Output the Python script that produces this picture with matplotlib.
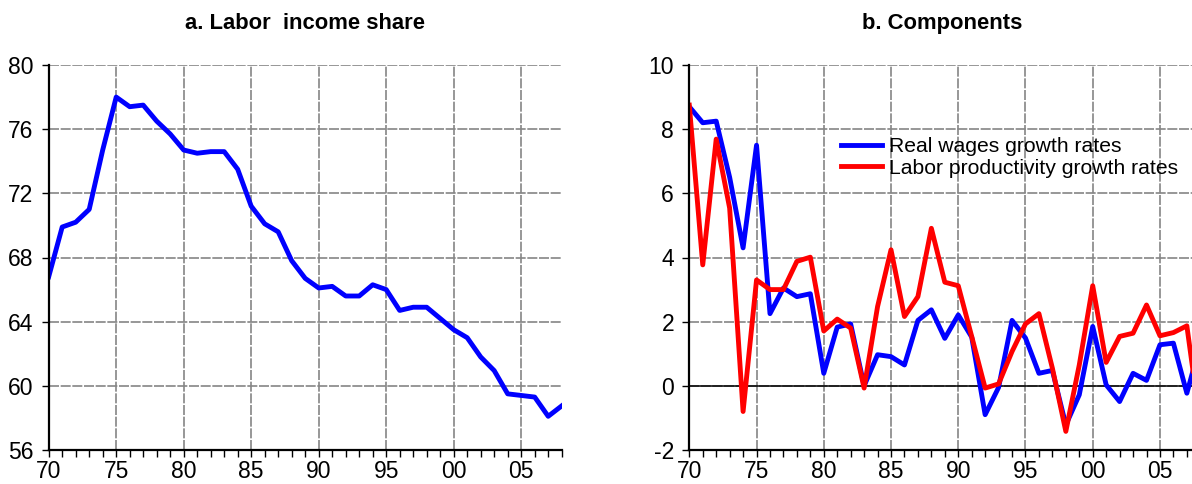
import matplotlib
matplotlib.use('Agg')
import matplotlib.pyplot as plt
import numpy as np

plt.rcParams['font.family'] = ['Liberation Sans', 'DejaVu Sans']

years = np.arange(1970, 2009)

labor_share = [66.8, 69.9, 70.2, 71.0, 74.7, 78.0, 77.4, 77.5, 76.5, 75.7,
               74.7, 74.5, 74.6, 74.6, 73.5, 71.2, 70.1, 69.6, 67.8, 66.7,
               66.1, 66.2, 65.6, 65.6, 66.3, 66.0, 64.7, 64.9, 64.9, 64.2,
               63.5, 63.0, 61.8, 60.95, 59.5, 59.4, 59.3, 58.1, 58.75]

real_wages = [8.7, 8.2, 8.25, 6.5, 4.3, 7.5, 2.25, 3.05, 2.78, 2.87,
              0.39, 1.83, 1.93, 0.0, 0.97, 0.91, 0.65, 2.04, 2.37, 1.48,
              2.21, 1.52, -0.9, -0.05, 2.04, 1.49, 0.39, 0.48, -1.22, -0.28,
              1.85, 0.03, -0.49, 0.39, 0.17, 1.28, 1.33, -0.23, 1.3]

productivity = [8.75, 3.77, 7.69, 5.54, -0.8, 3.3, 3.0, 3.0, 3.88, 4.01,
                1.71, 2.08, 1.8, -0.07, 2.47, 4.24, 2.16, 2.78, 4.91, 3.23,
                3.12, 1.54, -0.07, 0.06, 1.07, 1.93, 2.25, 0.55, -1.42, 0.65,
                3.12, 0.73, 1.54, 1.64, 2.52, 1.56, 1.66, 1.87, -1.2]

xtick_pos = np.arange(1970, 2009, 5)
xtick_labels = ['70', '75', '80', '85', '90', '95', '00', '05']

fig = plt.figure(figsize=(11.92, 4.84), dpi=100)
ax1 = fig.add_axes([48.7 / 1192, 34 / 484, 513 / 1192, 385 / 484])
# the right panel runs a little past the figure edge
ax2 = fig.add_axes([689.3 / 1192, 34 / 484, 511 / 1192, 385 / 484])


def style_axis(ax, yticks):
    ax.set_xlim(1970, 2008)
    ax.set_xticks(xtick_pos)
    ax.set_xticklabels(xtick_labels)
    ax.set_xticks(years, minor=True)
    ax.set_yticks(yticks)
    ax.set_ylim(yticks[0], yticks[-1])
    for s in ['top', 'right']:
        ax.spines[s].set_visible(False)
    for s in ['left', 'bottom']:
        ax.spines[s].set_linewidth(1.6)
        ax.spines[s].set_color('black')
    ax.tick_params(axis='both', which='major', direction='out', length=5,
                   width=1, labelsize=16.5, colors='black')
    ax.tick_params(axis='x', which='major', pad=2)
    ax.tick_params(axis='y', which='major', pad=6)
    ax.tick_params(axis='x', which='minor', direction='out', length=5, width=1)
    ax.grid(True, which='major', color='#858585', linestyle=(0, (6, 1)),
            linewidth=1.2)
    ax.set_axisbelow(True)


style_axis(ax1, [56, 60, 64, 68, 72, 76, 80])
ax1.plot(years, labor_share, color='#0000ff', linewidth=3.5)
ax1.set_title('a. Labor  income share', fontsize=15.8, fontweight='bold', pad=26)

style_axis(ax2, [-2, 0, 2, 4, 6, 8, 10])
ax2.set_yticklabels(['-2', '0', '2', '4', '6', '8', '10'])
ax2.axhline(0, color='black', linewidth=1.1, zorder=1.5)
ax2.plot(years, real_wages, color='#0000ff', linewidth=3.5,
         label='Real wages growth rates')
ax2.plot(years, productivity, color='#ff0000', linewidth=3.5,
         label='Labor productivity growth rates')
ax2.set_title('b. Components', fontsize=15.8, fontweight='bold', pad=26,
              x=0.4945)
ax2.legend(loc='upper left', bbox_to_anchor=(0.28, 0.835), frameon=False,
           fontsize=15.2, handlelength=1.95, handletextpad=0.35,
           labelspacing=0.12, borderaxespad=0)

fig.savefig('out.png', dpi=100)
